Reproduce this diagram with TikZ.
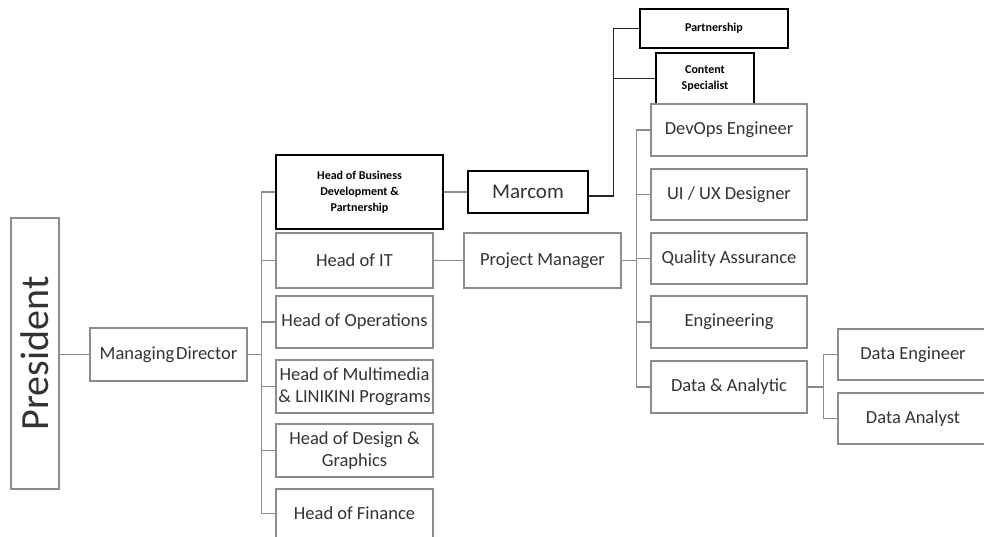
\documentclass[tikz,border=0pt]{standalone}
\usepackage{fontspec}
\setmainfont{Carlito}
\definecolor{boxgray}{HTML}{8C8C8C}
\definecolor{txtgray}{HTML}{333333}
\begin{document}
\begin{tikzpicture}[x=1pt,y=-1pt,
  gbox/.style={draw=boxgray, line width=1.2pt, fill=white, text=txtgray, align=center,
    inner sep=1pt, font=\fontsize{18.5}{22}\selectfont},
  kbox/.style={draw=black, line width=1.3pt, fill=white, text=black, align=center,
    inner sep=1pt, font=\fontsize{12}{16}\selectfont\bfseries},
  gline/.style={draw=boxgray, line width=1.4pt},
  kline/.style={draw=black!85, line width=1.3pt}]
\clip (0,0) rectangle (984,537);
\fill[white] (0,0) rectangle (984,537);
% nodes
\node[gbox, minimum width=48pt, minimum height=271pt] (pres) at (35,353.5)
  {\rotatebox{90}{\fontsize{40}{44}\selectfont President}};
\node[gbox, minimum width=157pt, minimum height=53pt] (md) at (168.5,354.5) {Managing\hspace{0.1em}Director};
\node[kbox, minimum width=167pt, minimum height=74pt] (biz) at (359.5,192) {Head of Business\\Development \&\\Partnership};
\node[gbox, minimum width=157pt, minimum height=55pt] (it) at (354.5,260.5) {Head of IT};
\node[gbox, minimum width=157pt, minimum height=52pt] (ops) at (354.5,322) {Head of Operations};
\node[gbox, minimum width=157pt, minimum height=53pt] (mm) at (354.5,386.5) {Head of Multimedia\\\& LINIKINI Programs};
\node[gbox, minimum width=157pt, minimum height=53pt] (des) at (354.5,450.5) {Head of Design \&\\Graphics};
\node[gbox, minimum width=157pt, minimum height=49pt] (fin) at (354.5,513.5) {Head of Finance};
\node[kbox, minimum width=120pt, minimum height=42pt, font=\fontsize{21}{24}\selectfont, text=txtgray] (marcom) at (528,192) {Marcom};
\node[gbox, minimum width=157pt, minimum height=55pt] (pm) at (542.5,260.5) {Project Manager};
\node[kbox, minimum width=148pt, minimum height=39pt] (part) at (714,28.5) {Partnership};
\node[kbox, minimum width=98pt, minimum height=51pt] (cs) at (705,78.5) {Content\\Specialist};
\node[gbox, minimum width=156pt, minimum height=52pt] (devops) at (729,130) {DevOps Engineer};
\node[gbox, minimum width=156pt, minimum height=51pt] (ui) at (729,194.5) {UI / UX Designer};
\node[gbox, minimum width=156pt, minimum height=51pt] (qa) at (729,258.5) {Quality Assurance};
\node[gbox, minimum width=156pt, minimum height=52pt] (eng) at (729,322) {Engineering};
\node[gbox, minimum width=156pt, minimum height=52pt] (da) at (729,387) {Data \& Analytic};
\node[gbox, minimum width=150pt, minimum height=51pt] (de) at (913,354.5) {Data Engineer};
\node[gbox, minimum width=150pt, minimum height=51pt] (dan) at (913,418.5) {Data Analyst};
% connectors
\draw[gline] (pres.east |- md.west) -- (md.west);
\foreach \n in {biz,it,ops,mm,des,fin}
  \draw[gline] (md.east) -- ++(14,0) |- (\n.west);
\draw[gline] (biz.east) -- (marcom.west);
\draw[gline] (it.east) -- (pm.west);
\foreach \n in {part,cs}
  \draw[kline] (marcom.east) ++(0,4) -- ++(25,0) |- (\n.west);
\foreach \n in {devops,ui,qa,eng,da}
  \draw[gline] (pm.east) -- ++(15,0) |- (\n.west);
\foreach \n in {de,dan}
  \draw[gline] (da.east) -- ++(16,0) |- (\n.west);
\end{tikzpicture}
\end{document}
